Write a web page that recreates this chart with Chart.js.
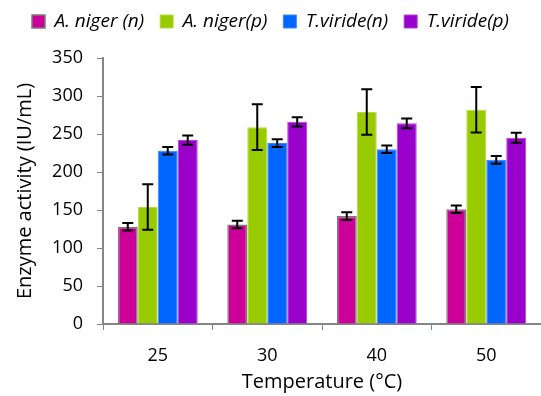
<!DOCTYPE html>
<html>
<head>
<meta charset="utf-8">
<script src="https://cdn.jsdelivr.net/npm/chart.js@4"></script>
<style>
  html, body { margin: 0; padding: 0; background: #fff; }
  #wrap { width: 541px; height: 396px; position: relative; }
</style>
</head>
<body>
<div id="wrap"><canvas id="myChart"></canvas></div>
<script>
// Dados do gráfico
const temperaturas = ['25', '30', '40', '50'];
const nigerN = [128, 131, 142, 151];
const nigerP = [154, 259, 279, 282];
const viridN = [228, 238, 230, 216];
const viridP = [242, 266, 264, 245];
// Barras de erro (desvio)
const erroNigerN = [5, 5, 5, 5];
const erroNigerP = [30, 30, 30, 30];
const erroViridN = [5, 5, 5, 5];
const erroViridP = [6, 6, 6.5, 6.5];
const yTicks = [0, 50, 100, 150, 200, 250, 300, 350];

const fonte = "'Open Sans', 'DejaVu Sans', sans-serif";

// Plugin para desenhar as barras de erro
const errorBars = {
    id: 'errorBars',
    afterDatasetsDraw(chart) {
        const ctx = chart.ctx;
        const y = chart.scales.y;
        ctx.save();
        ctx.strokeStyle = '#000';
        ctx.lineWidth = 2;
        chart.data.datasets.forEach((ds, i) => {
            const meta = chart.getDatasetMeta(i);
            meta.data.forEach((bar, j) => {
                const v = ds.data[j];
                const e = ds.errors[j];
                const top = y.getPixelForValue(v + e);
                const bot = y.getPixelForValue(v - e);
                const x = bar.x;
                ctx.beginPath();
                ctx.moveTo(x, top); ctx.lineTo(x, bot);
                ctx.moveTo(x - 5.5, top); ctx.lineTo(x + 5.5, top);
                ctx.moveTo(x - 5.5, bot); ctx.lineTo(x + 5.5, bot);
                ctx.stroke();
            });
        });
        ctx.restore();
    }
};

// Espaço extra abaixo da legenda
const legendGap = {
    id: 'legendGap',
    beforeInit(chart) {
        const fitOriginal = chart.legend.fit;
        chart.legend.fit = function () {
            fitOriginal.bind(chart.legend)();
            this.height += 17;
        };
    }
};

const ctx = document.getElementById('myChart').getContext('2d');
new Chart(ctx, {
    type: 'bar',
    data: {
        labels: temperaturas,
        datasets: [
            { label: 'A. niger (n)', data: nigerN, errors: erroNigerN,
              backgroundColor: '#CC0099', borderColor: '#7a7a7a', borderWidth: 1.5 },
            { label: 'A. niger(p)', data: nigerP, errors: erroNigerP,
              backgroundColor: '#99CC00', borderColor: '#b5dc45', borderWidth: 1 },
            { label: 'T.viride(n)', data: viridN, errors: erroViridN,
              backgroundColor: '#0066FF', borderColor: '#3a86ff', borderWidth: 1 },
            { label: 'T.viride(p)', data: viridP, errors: erroViridP,
              backgroundColor: '#9900CC', borderColor: '#b340dd', borderWidth: 1 }
        ]
    },
    options: {
        responsive: true,
        maintainAspectRatio: false,
        animation: false,
        categoryPercentage: 0.73,
        barPercentage: 1.0,
        layout: { padding: { left: 0, right: 0, top: -4, bottom: 0 } },
        plugins: {
            tooltip: { enabled: false },
            legend: {
                position: 'top',
                labels: {
                    boxWidth: 13,
                    boxHeight: 13,
                    padding: 16,
                    color: '#000',
                    font: { family: fonte, size: 19, style: 'italic' }
                }
            }
        },
        scales: {
            x: {
                grid: { drawOnChartArea: false, tickLength: 6, color: '#868686', offset: true },
                border: { color: '#868686', width: 2 },
                ticks: { color: '#000', padding: 15, font: { family: fonte, size: 18 } },
                title: { display: true, text: 'Temperature (°C)', color: '#000',
                         font: { family: fonte, size: 20 }, padding: { top: 0, bottom: 2 } },
                afterFit(scale) { scale.height = 72; }
            },
            y: {
                min: 0,
                max: 350,
                afterBuildTicks(scale) { scale.ticks = yTicks.map(v => ({ value: v })); },
                grid: { drawOnChartArea: false, tickLength: 6, color: '#868686' },
                border: { color: '#868686', width: 2 },
                ticks: { color: '#000', padding: 14, font: { family: fonte, size: 18 } },
                title: { display: true, text: 'Enzyme activity (IU/mL)', color: '#000',
                         font: { family: fonte, size: 20 }, padding: { top: 13, bottom: 0 } },
                afterFit(scale) { scale.width = 103; }
            }
        }
    },
    plugins: [errorBars, legendGap]
});
</script>
</body>
</html>
